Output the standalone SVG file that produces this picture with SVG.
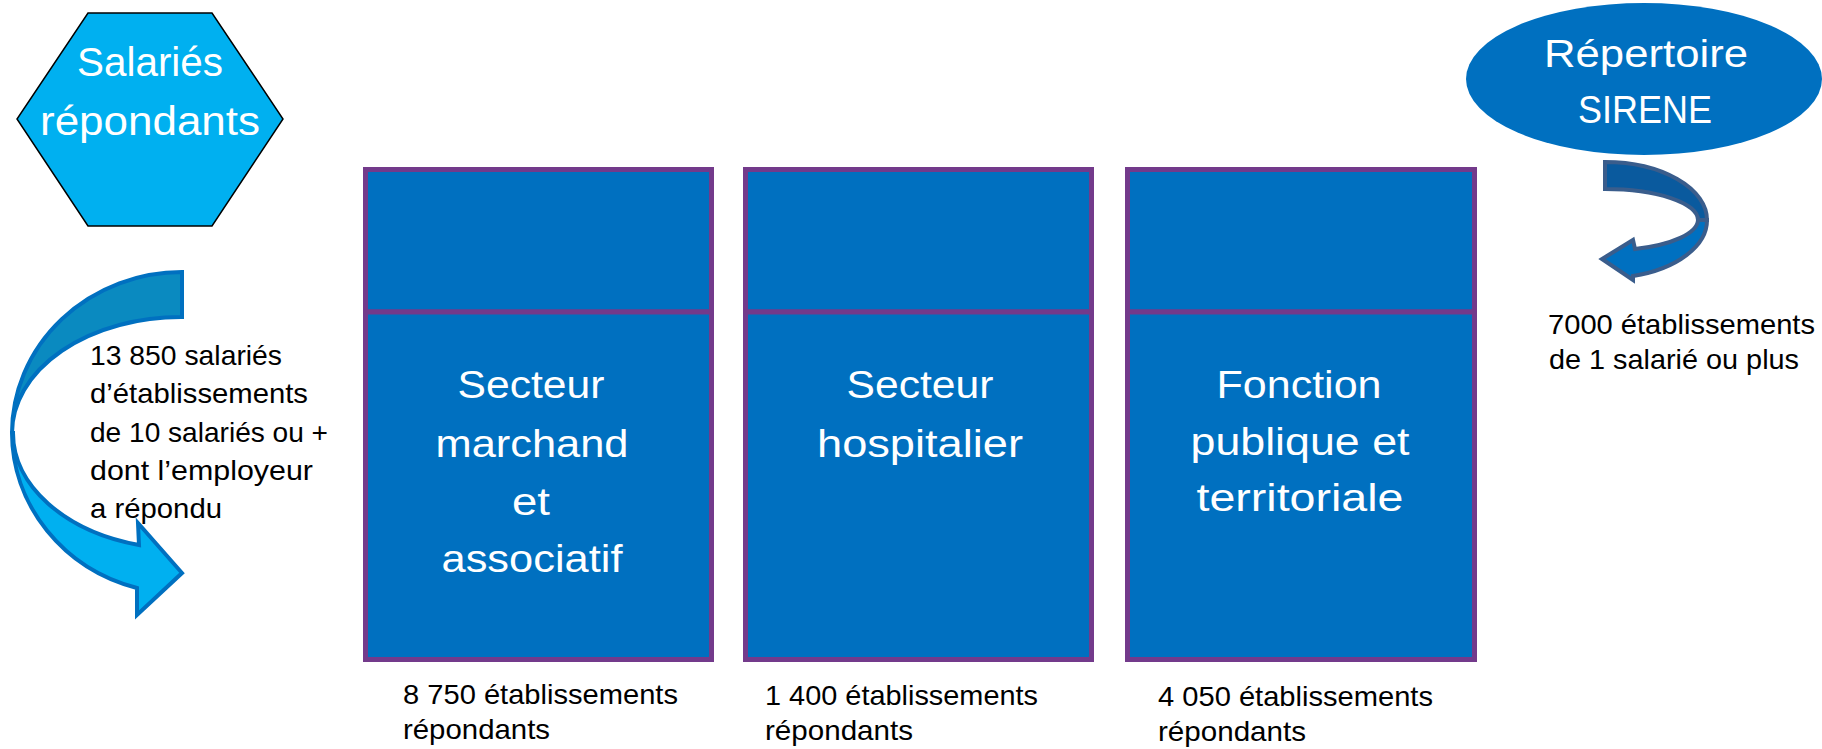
<svg xmlns="http://www.w3.org/2000/svg" width="1822" height="749" viewBox="0 0 1822 749">
<style>
text{font-family:"Liberation Sans",Arial,sans-serif;}
.w{fill:#ffffff;}
.k{fill:#000000;font-size:28px;}
.hx{font-size:40px;}
.el{font-size:39px;}
.bx{font-size:38px;}
.box{fill:#0070C0;stroke:#733A8B;stroke-width:5;}
</style>
<rect width="1822" height="749" fill="#ffffff"/>
<g id="salaries">
<polygon points="88,13 212,13 283,119 212,226 88,226 17,119" fill="#00B0F0" stroke="#000000" stroke-width="1.5"/>
<text class="w hx" x="150" y="76" text-anchor="middle" textLength="146" lengthAdjust="spacingAndGlyphs">Salariés</text>
<text class="w hx" x="150" y="135" text-anchor="middle" textLength="220" lengthAdjust="spacingAndGlyphs">répondants</text>
</g>
<g id="sirene">
<ellipse cx="1644" cy="79" rx="178" ry="76" fill="#0070C0"/>
<text class="w el" x="1646" y="67" text-anchor="middle" textLength="204" lengthAdjust="spacingAndGlyphs">Répertoire</text>
<text class="w el" x="1645" y="123" text-anchor="middle" textLength="134" lengthAdjust="spacingAndGlyphs">SIRENE</text>
</g>
<g id="connectors">
<g id="arrow-left" stroke="#0070C0" stroke-width="4" stroke-linejoin="miter">
<path d="M182,272 A170,161 0 0 0 12,433 A169,116 0 0 1 182,317 Z" fill="#0A8AC0"/>
<path d="M12,433 A170,161 0 0 0 137,588 L137,615 L182,573 L138,523 L139,545 A169,116 0 0 1 13,433 Z" fill="#00B0F0"/>
</g>
<g id="arrow-right" stroke="#3A5D8C" stroke-width="4" stroke-linejoin="miter">
<path d="M1605,162 A102,58 0 0 1 1707,220 L1698,220 A93,31 0 0 0 1605,189 Z" fill="#0A5A9E"/>
<path d="M1707,220 A102,58 0 0 1 1633,276 L1633,280 L1602,259 L1633,240 L1635,249 A93,31 0 0 0 1698,220 Z" fill="#0070C0"/>
</g>
</g>
<g id="secteur-marchand">
<rect class="box" x="365.5" y="169.5" width="346" height="142.5"/>
<rect class="box" x="365.5" y="312" width="346" height="347.5"/>
<text class="w bx" x="531" y="398" text-anchor="middle" textLength="147" lengthAdjust="spacingAndGlyphs">Secteur</text>
<text class="w bx" x="532" y="457" text-anchor="middle" textLength="193" lengthAdjust="spacingAndGlyphs">marchand</text>
<text class="w bx" x="531" y="515" text-anchor="middle" textLength="38" lengthAdjust="spacingAndGlyphs">et</text>
<text class="w bx" x="532" y="572" text-anchor="middle" textLength="181" lengthAdjust="spacingAndGlyphs">associatif</text>
<text class="k" x="403" y="704" textLength="275" lengthAdjust="spacingAndGlyphs">8 750 établissements</text>
<text class="k" x="403" y="739" textLength="147" lengthAdjust="spacingAndGlyphs">répondants</text>
</g>
<g id="secteur-hospitalier">
<rect class="box" x="745.5" y="169.5" width="346" height="142.5"/>
<rect class="box" x="745.5" y="312" width="346" height="347.5"/>
<text class="w bx" x="920" y="398" text-anchor="middle" textLength="147" lengthAdjust="spacingAndGlyphs">Secteur</text>
<text class="w bx" x="920" y="457" text-anchor="middle" textLength="206" lengthAdjust="spacingAndGlyphs">hospitalier</text>
<text class="k" x="765" y="705" textLength="273" lengthAdjust="spacingAndGlyphs">1 400 établissements</text>
<text class="k" x="765" y="740" textLength="148" lengthAdjust="spacingAndGlyphs">répondants</text>
</g>
<g id="fonction-publique">
<rect class="box" x="1127.5" y="169.5" width="347" height="142.5"/>
<rect class="box" x="1127.5" y="312" width="347" height="347.5"/>
<text class="w bx" x="1299" y="398" text-anchor="middle" textLength="165" lengthAdjust="spacingAndGlyphs">Fonction</text>
<text class="w bx" x="1300" y="455" text-anchor="middle" textLength="219" lengthAdjust="spacingAndGlyphs">publique et</text>
<text class="w bx" x="1300" y="511" text-anchor="middle" textLength="207" lengthAdjust="spacingAndGlyphs">territoriale</text>
<text class="k" x="1158" y="706" textLength="275" lengthAdjust="spacingAndGlyphs">4 050 établissements</text>
<text class="k" x="1158" y="741" textLength="148" lengthAdjust="spacingAndGlyphs">répondants</text>
</g>
<g id="label-salaries">
<text class="k" x="90" y="365" textLength="192" lengthAdjust="spacingAndGlyphs">13 850 salariés</text>
<text class="k" x="90" y="403" textLength="218" lengthAdjust="spacingAndGlyphs">d’établissements</text>
<text class="k" x="90" y="442" textLength="238" lengthAdjust="spacingAndGlyphs">de 10 salariés ou +</text>
<text class="k" x="90" y="480" textLength="223" lengthAdjust="spacingAndGlyphs">dont l’employeur</text>
<text class="k" x="90" y="518" textLength="132" lengthAdjust="spacingAndGlyphs">a répondu</text>
</g>
<g id="label-sirene">
<text class="k" x="1548" y="334" textLength="267" lengthAdjust="spacingAndGlyphs">7000 établissements</text>
<text class="k" x="1549" y="369" textLength="250" lengthAdjust="spacingAndGlyphs">de 1 salarié ou plus</text>
</g>
</svg>
